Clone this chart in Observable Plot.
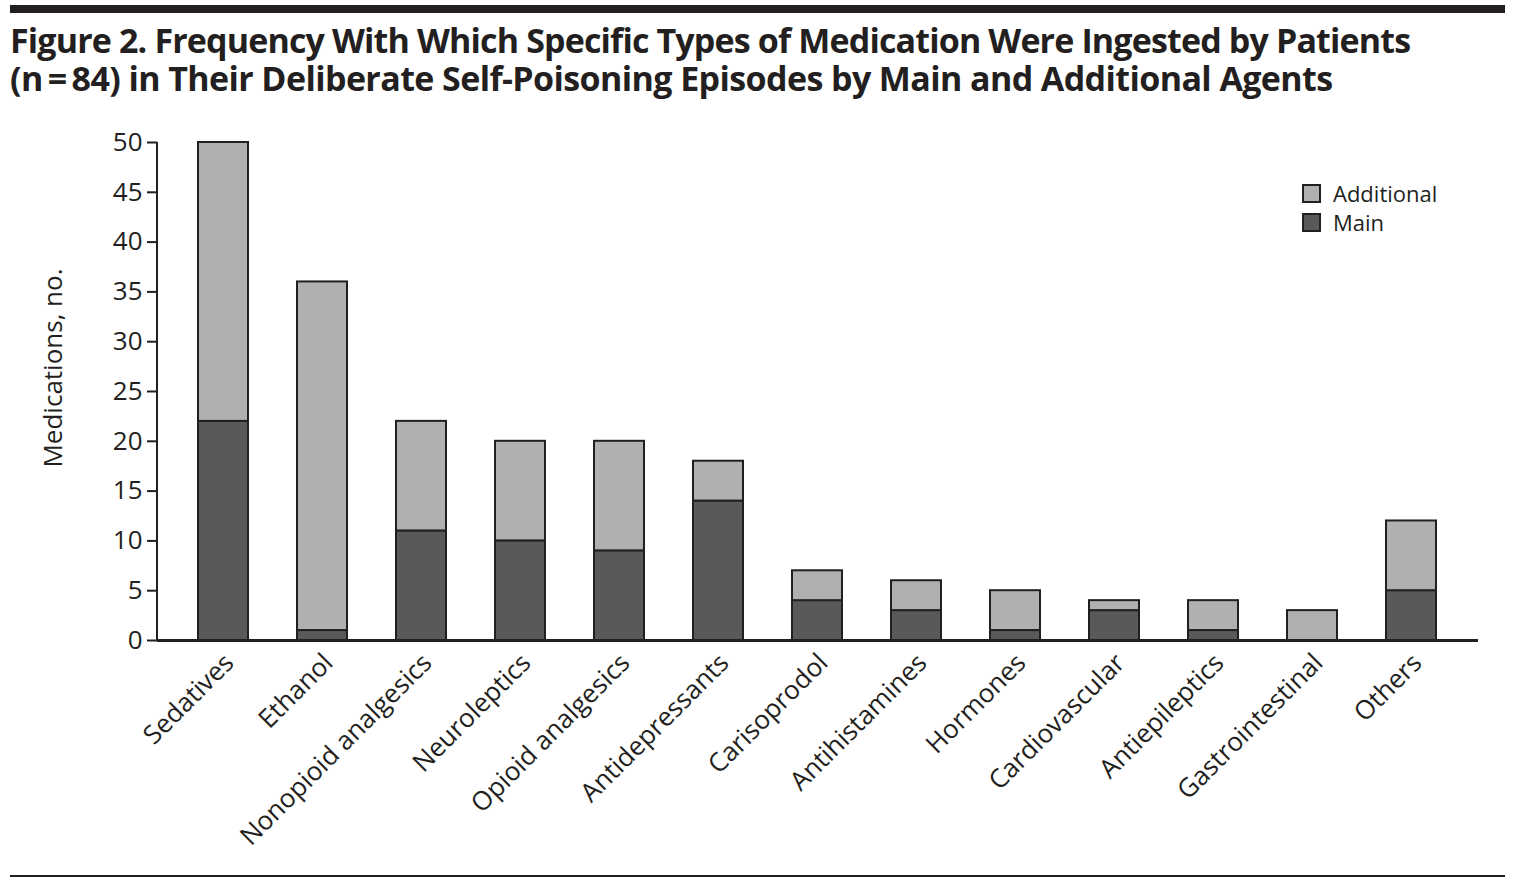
<!DOCTYPE html>
<html>
<head>
<meta charset="utf-8">
<script src="https://cdn.jsdelivr.net/npm/d3@7"></script>
<script src="https://cdn.jsdelivr.net/npm/@observablehq/plot@0.6"></script>
<style>
  html, body { margin: 0; padding: 0; background: #fff; }
  body { width: 1515px; height: 881px; position: relative; overflow: hidden; font-family: "Open Sans", sans-serif; color: #231f20; }
  #topbar { position: absolute; left: 10px; top: 5px; width: 1495px; height: 8px; background: #231f20; }
  #bottombar { position: absolute; left: 10px; top: 875px; width: 1495px; height: 2px; background: #231f20; }
  #title { position: absolute; left: 10px; top: 21px; font-weight: 700; font-size: 34px; white-space: nowrap; line-height: 38px; }
  #ylabel { position: absolute; left: 52px; top: 368px; transform: translate(-50%, -50%) rotate(-90deg); font-size: 26px; white-space: nowrap; }
  #chart { position: absolute; left: 0; top: 0; }
  .legend { position: absolute; left: 1302px; font-size: 22px; display: flex; align-items: center; }
  .legend .sw { width: 15px; height: 15px; border: 2px solid #231f20; margin-right: 12px; }
</style>
</head>
<body>
<div id="topbar"></div>
<div id="title"><span style="letter-spacing:-0.85px">Figure 2. Frequency With Which Specific Types of Medication Were Ingested by Patients</span><br><span style="letter-spacing:-0.6px">(n&#8201;=&#8201;84) in Their Deliberate Self-Poisoning Episodes by Main and Additional Agents</span></div>
<div id="chart"></div>
<div id="ylabel">Medications, no.</div>
<div class="legend" style="top:178px"><div class="sw" style="background:#b0b0b0"></div>Additional</div>
<div class="legend" style="top:207px"><div class="sw" style="background:#595959"></div>Main</div>
<div id="bottombar"></div>
<script>
const categories = ["Sedatives", "Ethanol", "Nonopioid analgesics", "Neuroleptics", "Opioid analgesics", "Antidepressants", "Carisoprodol", "Antihistamines", "Hormones", "Cardiovascular", "Antiepileptics", "Gastrointestinal", "Others"];
const mainValues = [22, 1, 11, 10, 9, 14, 4, 3, 1, 3, 1, 0, 5];
const additionalValues = [28, 35, 11, 10, 11, 4, 3, 3, 4, 1, 3, 3, 7];
const yTicks = [0, 5, 10, 15, 20, 25, 30, 35, 40, 45, 50];

const rows = categories.map((c, i) => ({
  category: c,
  main: mainValues[i],
  additional: additionalValues[i],
  total: mainValues[i] + additionalValues[i]
}));

// vertical y-axis line drawn from the y scale at the frame's left edge
function yAxisLine(index, scales, values, dimensions) {
  const y = scales.y;
  const x0 = dimensions.marginLeft;
  const line = document.createElementNS("http://www.w3.org/2000/svg", "line");
  line.setAttribute("x1", x0);
  line.setAttribute("x2", x0);
  line.setAttribute("y1", y(yTicks[yTicks.length - 1]));
  line.setAttribute("y2", y(yTicks[0]));
  line.setAttribute("stroke", "#231f20");
  line.setAttribute("stroke-width", 2);
  return line;
}

const chart = Plot.plot({
  width: 1515,
  height: 881,
  marginTop: 142,
  marginBottom: 241,
  marginLeft: 157,
  marginRight: 37,
  style: { fontFamily: "Open Sans, sans-serif", color: "#231f20", background: "transparent" },
  x: { domain: categories, padding: 0.5, paddingOuter: 0.25, insetLeft: 14, insetRight: 15, label: null },
  y: { domain: [0, 50], label: null },
  marks: [
    Plot.barY(rows.filter(d => d.main > 0), { x: "category", y1: 0, y2: "main", fill: "#595959", stroke: "#231f20", strokeWidth: 2 }),
    Plot.barY(rows, { x: "category", y1: "main", y2: "total", fill: "#b0b0b0", stroke: "#231f20", strokeWidth: 2 }),
    Plot.axisY({ ticks: yTicks, tickSize: 10, tickPadding: 5, fontSize: 26, strokeWidth: 2, stroke: "#231f20", fill: "#231f20" }),
    yAxisLine,
    Plot.axisX({ tickSize: 0, tickRotate: -45, tickPadding: 18, dx: 6, fontSize: 26, fill: "#231f20" }),
    Plot.ruleY([0], { stroke: "#231f20", strokeWidth: 3 })
  ]
});
document.getElementById("chart").appendChild(chart);
</script>
</body>
</html>
